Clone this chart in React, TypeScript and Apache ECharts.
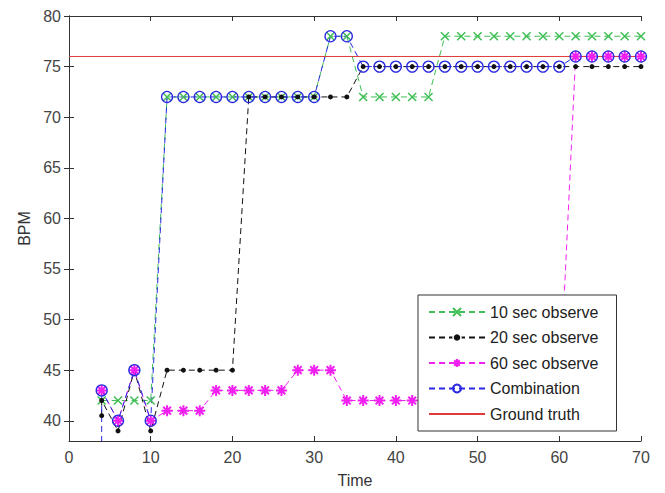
import React, { useEffect, useRef } from "react";
import * as echarts from "echarts";

const times = [4, 6, 8, 10, 12, 14, 16, 18, 20, 22, 24, 26, 28, 30, 32, 34, 36, 38, 40, 42, 44, 46, 48, 50, 52, 54, 56, 58, 60, 62, 64, 66, 68, 70];
const obs10 = [42, 42, 42, 42, 72, 72, 72, 72, 72, 72, 72, 72, 72, 72, 78, 78, 72, 72, 72, 72, 72, 78, 78, 78, 78, 78, 78, 78, 78, 78, 78, 78, 78, 78];
const obs20 = [42, 39, 45, 39, 45, 45, 45, 45, 45, 72, 72, 72, 72, 72, 72, 72, 75, 75, 75, 75, 75, 75, 75, 75, 75, 75, 75, 75, 75, 75, 75, 75, 75, 75];
const obs60 = [43, 40, 45, 40, 41, 41, 41, 43, 43, 43, 43, 43, 45, 45, 45, 42, 42, 42, 42, 42, 42, 42, 42, 42, 42, 42, 42, 42, 42, 76, 76, 76, 76, 76];
const combination = [43, 40, 45, 40, 72, 72, 72, 72, 72, 72, 72, 72, 72, 72, 78, 78, 75, 75, 75, 75, 75, 75, 75, 75, 75, 75, 75, 75, 75, 76, 76, 76, 76, 76];
const leadInCombination = 30; // combination starts from below the visible range at the first time
const leadInObs20 = 40.5;
const groundTruth = 76;
const xTicks = [0, 10, 20, 30, 40, 50, 60, 70];
const yTicks = [40, 45, 50, 55, 60, 65, 70, 75, 80];
const names = ["10 sec observe", "20 sec observe", "60 sec observe", "Combination", "Ground truth"];

const pairs = (vals: number[], lead?: number) => {
  const d = times.map((t, i) => [t, vals[i]]);
  if (lead !== undefined) d.unshift([times[0], lead]);
  return d;
};

const FONT = "Liberation Sans, Arial, sans-serif";

export default function App() {
  const ref = useRef<HTMLDivElement>(null);
  useEffect(() => {
    if (!ref.current) return;
    const chart = echarts.init(ref.current, null, { renderer: "svg" });
    const dash = [6, 4];
    const axisLine = { show: true, lineStyle: { color: "#333", width: 1 } };
    const GREEN = "#3fbf55";
    const BLACK = "#111111";
    const MAGENTA = "#f020f0";
    const BLUE = "#2828e0";
    const RED = "#e03a3a";
    chart.setOption({
      animation: false,
      backgroundColor: "#ffffff",
      grid: { left: 69, right: 24, top: 16, bottom: 50, containLabel: false },
      xAxis: [
        {
          type: "value",
          min: 0,
          max: 70,
          interval: 10,
          name: "Time",
          nameLocation: "middle",
          nameGap: 31,
          nameTextStyle: { fontFamily: FONT, fontSize: 16, color: "#333" },
          axisLine,
          axisTick: { show: true, inside: true, length: 5, lineStyle: { color: "#333" } },
          axisLabel: { fontFamily: FONT, fontSize: 16, color: "#444", margin: 8 },
          splitLine: { show: false },
        },
        {
          type: "value",
          position: "top",
          min: 0,
          max: 70,
          interval: 10,
          axisLine,
          axisTick: { show: true, inside: true, length: 5, lineStyle: { color: "#333" } },
          axisLabel: { show: false },
          splitLine: { show: false },
        },
      ],
      yAxis: [
        {
          type: "value",
          min: 38,
          max: 80,
          name: "BPM",
          nameLocation: "middle",
          nameGap: 35,
          nameTextStyle: { fontFamily: FONT, fontSize: 16, color: "#333" },
          axisLine,
          axisTick: { show: true, inside: true, length: 5, customValues: yTicks, lineStyle: { color: "#333" } },
          axisLabel: { fontFamily: FONT, fontSize: 16, color: "#444", margin: 8, customValues: yTicks },
          splitLine: { show: false },
        },
        {
          type: "value",
          position: "right",
          min: 38,
          max: 80,
          axisLine,
          axisTick: { show: true, inside: true, length: 5, customValues: yTicks, lineStyle: { color: "#333" } },
          axisLabel: { show: false, customValues: yTicks },
          splitLine: { show: false },
        },
      ],
      legend: {
        orient: "vertical",
        left: 418,
        top: 295,
        data: [
          { name: names[0] },
          { name: names[1], itemStyle: { borderColor: "#ffffff", borderWidth: 1.5 } },
          { name: names[2] },
          { name: names[3] },
          { name: names[4], itemStyle: { color: "rgba(0,0,0,0)", opacity: 0, borderWidth: 0 } },
        ],
        backgroundColor: "#ffffff",
        borderColor: "#333",
        borderWidth: 1,
        borderRadius: 0,
        padding: [9, 18, 9, 10],
        itemWidth: 56,
        itemHeight: 10,
        itemGap: 9.5,
        textStyle: { fontFamily: FONT, fontSize: 16, color: "#222" },
        z: 10,
      },
      series: [
        {
          name: names[0],
          type: "line",
          data: pairs(obs10),
          color: GREEN,
          lineStyle: { color: GREEN, width: 1, type: dash },
          symbol: "path://M0,0L10,10M10,0L0,10",
          symbolSize: 8,
          itemStyle: { color: GREEN, borderColor: GREEN, borderWidth: 1.5 },
          clip: true,
        },
        {
          name: names[1],
          type: "line",
          data: pairs(obs20, leadInObs20),
          color: BLACK,
          lineStyle: { color: BLACK, width: 1, type: dash },
          symbol: "circle",
          symbolSize: 5,
          itemStyle: { color: BLACK },
          clip: true,
        },
        {
          name: names[2],
          type: "line",
          data: pairs(obs60),
          color: MAGENTA,
          lineStyle: { color: MAGENTA, width: 1, type: dash },
          symbol: "path://M5,0L5,10M0,5L10,5M1.5,1.5L8.5,8.5M8.5,1.5L1.5,8.5",
          symbolSize: 11,
          itemStyle: { color: MAGENTA, borderColor: MAGENTA, borderWidth: 2 },
          clip: true,
        },
        {
          name: names[3],
          type: "line",
          data: pairs(combination, leadInCombination),
          color: BLUE,
          lineStyle: { color: BLUE, width: 1, type: dash },
          symbol: "circle",
          symbolSize: 11,
          itemStyle: { color: "rgba(255,255,255,0)", borderColor: BLUE, borderWidth: 1.3 },
          clip: true,
        },
        {
          name: names[4],
          type: "line",
          data: [[xTicks[0], groundTruth], [xTicks[xTicks.length - 1], groundTruth]],
          color: RED,
          lineStyle: { color: RED, width: 1 },
          symbol: "none",
          clip: true,
        },
      ],
    });
    return () => chart.dispose();
  }, []);
  return <div ref={ref} style={{ position: "fixed", left: 0, top: 0, width: 665, height: 493 }} />;
}
